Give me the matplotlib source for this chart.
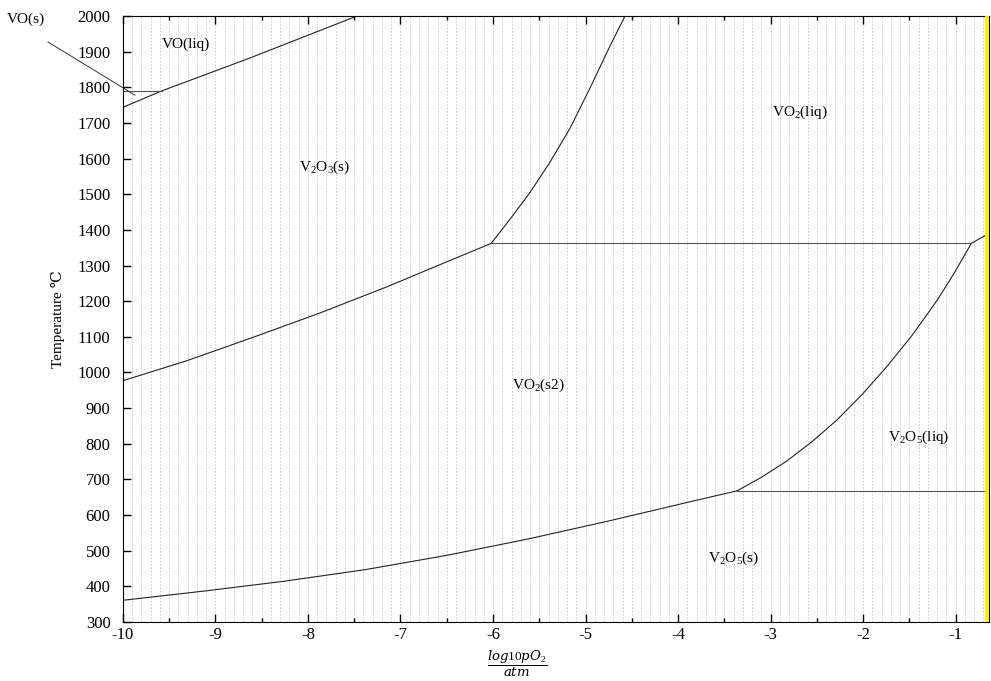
import numpy as np
import matplotlib
matplotlib.use("Agg")
import matplotlib.pyplot as plt
from matplotlib.ticker import MultipleLocator

plt.rcParams['font.family'] = ['Liberation Serif', 'DejaVu Serif']
plt.rcParams['mathtext.fontset'] = 'custom'
plt.rcParams['mathtext.rm'] = 'Liberation Serif'
plt.rcParams['mathtext.it'] = 'DejaVu Serif:italic'

# phase boundaries (x = log10 pO2, y = T in C)
vo_liq_x = [-10.0, -9.58, -8.63, -7.47]
vo_liq_y = [1744, 1790, 1882, 2000]

vo_s_x = [-10.0, -9.58]
vo_s_y = [1790, 1790]

v2o3_vo2_x = [-10.0, -9.31, -8.59, -7.87, -7.15, -6.43, -6.02]
v2o3_vo2_y = [977, 1033, 1099, 1167, 1240, 1318, 1362]

v2o3_liq_x = [-6.02, -5.816, -5.600, -5.384, -5.168, -4.951, -4.735, -4.573]
v2o3_liq_y = [1362, 1430, 1505, 1590, 1685, 1798, 1916, 2000]

vo2_liq_x = [-6.02, -0.83]
vo2_liq_y = [1362, 1362]

upper_x = [-0.83, -0.62]
upper_y = [1362, 1393]

v2o5_liq_x = [-3.362, -3.092, -2.822, -2.551, -2.281, -2.011, -1.741,
              -1.470, -1.200, -1.016, -0.83]
v2o5_liq_y = [668, 707, 752, 806, 867, 938, 1017, 1104, 1202, 1278, 1362]

v2o5_eut_x = [-3.362, -0.6]
v2o5_eut_y = [668, 668]

v2o5_s_x = [-10.0, -9.15, -8.27, -7.38, -6.50, -5.62, -4.74, -3.86, -3.362]
v2o5_s_y = [361, 386, 414, 447, 487, 533, 584, 638, 668]

labels = ['VO(liq)', r'V$_2$O$_3$(s)', r'VO$_2$(liq)', r'VO$_2$(s2)',
          r'V$_2$O$_5$(liq)', r'V$_2$O$_5$(s)']
label_x = [-9.32, -7.816, -2.68, -5.503, -1.395, -3.40]
label_y = [1921, 1576, 1730, 963, 817, 480]

fig = plt.figure(figsize=(9.91, 6.81), dpi=100)
ax = fig.add_axes([0.1241, 0.0866, 0.8739, 0.8899])

for xs, ys in [(vo_liq_x, vo_liq_y), (v2o3_vo2_x, v2o3_vo2_y),
               (v2o3_liq_x, v2o3_liq_y), (upper_x, upper_y),
               (v2o5_liq_x, v2o5_liq_y), (v2o5_s_x, v2o5_s_y)]:
    ax.plot(xs, ys, color='#222222', lw=0.8)
for xs, ys in [(vo_s_x, vo_s_y), (vo2_liq_x, vo2_liq_y), (v2o5_eut_x, v2o5_eut_y)]:
    ax.plot(xs, ys, color='#555555', lw=0.8)

for t, x, y in zip(labels, label_x, label_y):
    ax.text(x, y, t, fontsize=11, ha='center', va='center')

# VO(s) label sits outside the axes with a leader line
ax.text(-11.05, 1990, 'VO(s)', fontsize=11, ha='center', va='center', clip_on=False)
ax.plot([-10.81, -9.87], [1927, 1778], color='#333333', lw=0.7, clip_on=False)

ax.axvline(-0.66, color='#ffee00', lw=3.5, zorder=5)

ax.set_xlim(-10, -0.638)
ax.set_ylim(300, 2000)
ax.xaxis.set_major_locator(MultipleLocator(1))
ax.xaxis.set_minor_locator(MultipleLocator(0.5))
ax.yaxis.set_major_locator(MultipleLocator(100))
for x in np.arange(-9.9, -0.6, 0.1):
    ax.axvline(x, color='#c8c8c8', lw=0.6, ls=(0, (2, 2)), zorder=0)

ax.tick_params(which='both', direction='in', top=True, right=False, labelsize=12)
ax.tick_params(which='major', length=6, width=1)
ax.tick_params(which='minor', length=3, width=1)
ax.tick_params(axis='y', pad=9)
ax.xaxis.set_major_formatter(plt.FuncFormatter(lambda v, p: f'{v:.0f}'))

ax.set_ylabel('Temperature ℃', fontsize=11)
ax.yaxis.set_label_coords(-0.067, 0.5)
ax.set_xlabel(r'$\dfrac{log10pO_2}{atm}$', fontsize=9.5)
ax.xaxis.set_label_coords((517 - 123) / 866, -0.045)

fig.savefig('out.png', dpi=100)
